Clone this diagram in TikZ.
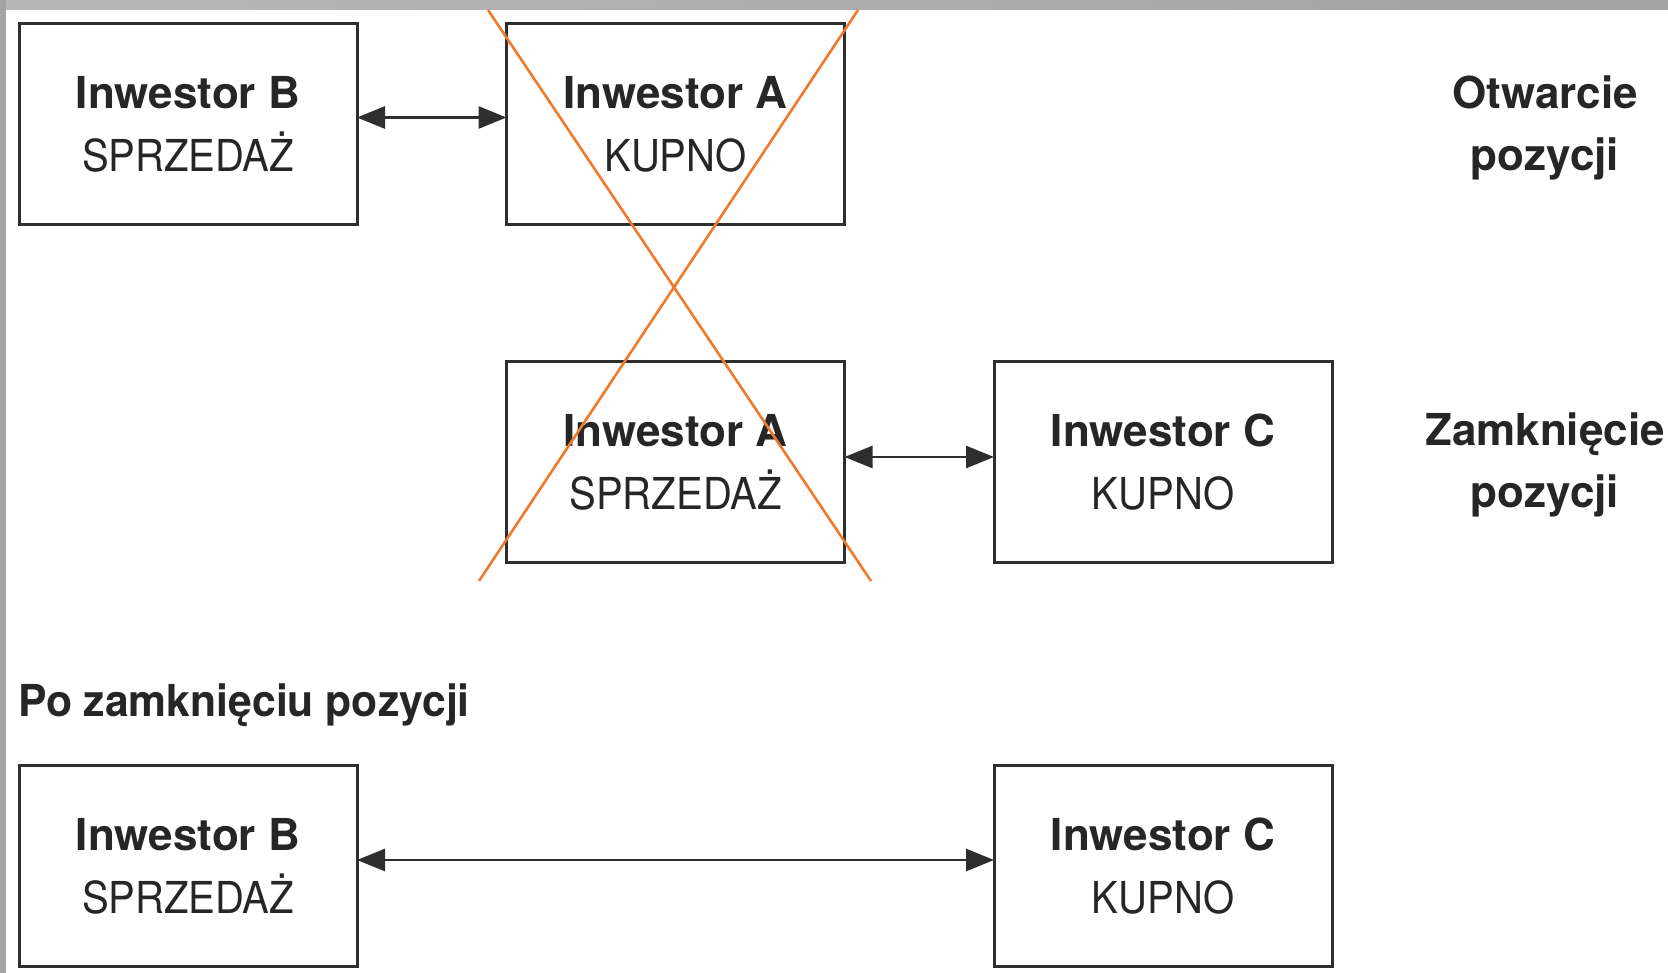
\documentclass[tikz,border=0pt]{standalone}
\usepackage{fontspec}
\setmainfont{TeX Gyre Heros}
\newfontfamily\regf[FakeStretch=0.91]{TeX Gyre Heros}
\newfontfamily\narf[FakeStretch=0.97]{TeX Gyre Heros}
\usetikzlibrary{arrows.meta}
\definecolor{ink}{HTML}{262626}
\definecolor{boxline}{HTML}{2E2E2E}
\definecolor{cross}{HTML}{F07A2C}
\tikzset{
  invbox/.style={draw=boxline, line width=3pt, minimum width=338pt, minimum height=201pt,
    inner sep=0pt, outer sep=0pt, align=center, text=ink,
    font=\fontsize{44}{63}\selectfont},
  lab/.style={text=ink, inner sep=0pt, align=center, font=\fontsize{44}{62}\selectfont\bfseries},
  dbl/.style={draw=boxline, line width=2.8pt,
    {Triangle[length=28pt,width=22pt]}-{Triangle[length=28pt,width=22pt]}},
  crossline/.style={draw=cross, line width=2.6pt}
}
\begin{document}
\begin{tikzpicture}[x=1pt,y=-1pt]
\useasboundingbox (0,0) rectangle (1668,973);
\fill[white] (0,0) rectangle (1668,973);

% frame bands
\shade[left color=black!28, middle color=black!12, right color=black!36] (0,0) rectangle (1668,10);
\fill[black!36] (0,0) rectangle (6,973);

% boxes
\node[invbox] (B1) at (188,124.5) {\bfseries Inwestor B\\{\regf SPRZEDAŻ}};
\node[invbox] (A1) at (675.5,124.5) {\bfseries Inwestor A\\{\regf KUPNO}};
\node[invbox] (A2) at (675.5,462) {\bfseries Inwestor A\\{\regf SPRZEDAŻ}};
\node[invbox] (C2) at (1163,462) {\bfseries Inwestor C\\{\regf KUPNO}};
\node[invbox] (B3) at (188,866) {\bfseries Inwestor B\\{\regf SPRZEDAŻ}};
\node[invbox] (C3) at (1163,866) {\bfseries Inwestor C\\{\regf KUPNO}};

% orange crossing lines over the struck-out boxes
\draw[crossline] (488,10) -- (871,581);
\draw[crossline] (858,10) -- (479,581);

% connectors
\draw[dbl] ([yshift=7pt]B1.east) -- ([yshift=7pt]A1.west);
\draw[dbl] ([yshift=5pt]A2.east) -- ([yshift=5pt]C2.west);
\draw[dbl] ([yshift=6pt]B3.east) -- ([yshift=6pt]C3.west);

% side labels
\node[lab] (open) at (1545,128) {Otwarcie\\pozycji};
\node[lab] (close) at (1545,465) {Zamknięcie\\pozycji};
\node[lab, anchor=base west] (after) at (18,716) {\narf Po zamknięciu pozycji};
\end{tikzpicture}
\end{document}
